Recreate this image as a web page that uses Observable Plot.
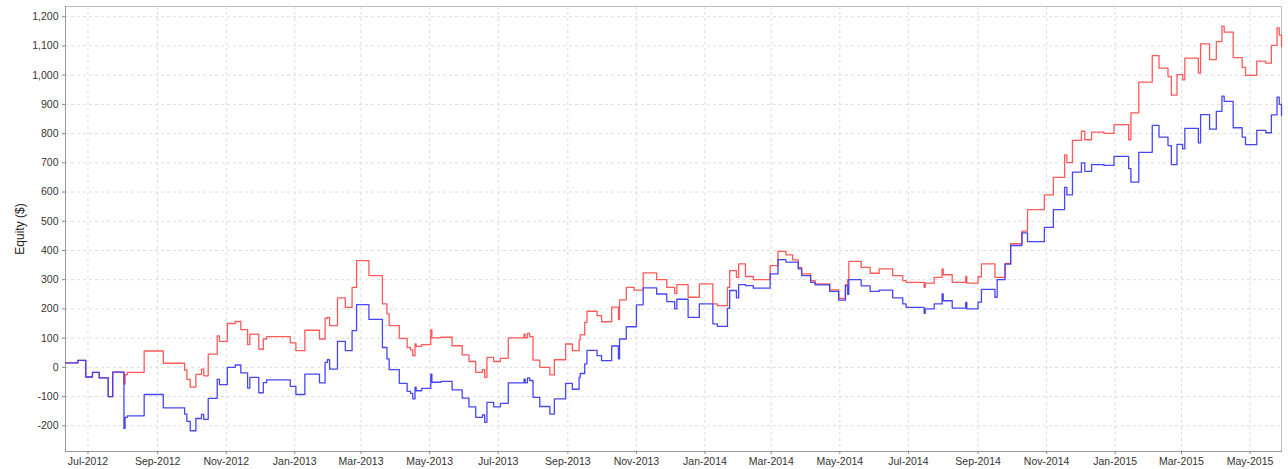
<!DOCTYPE html>
<html>
<head>
<meta charset="utf-8">
<script src="https://cdn.jsdelivr.net/npm/d3@7"></script>
<script src="https://cdn.jsdelivr.net/npm/@observablehq/plot@0.6"></script>
<style>
  html, body { margin: 0; padding: 0; background: #fff; }
  #chart { width: 1288px; height: 469px; }
</style>
</head>
<body>
<div id="chart"></div>
<script>
// Equity curve data (dates where a new level starts; step-after)
const dates = [
  "2012-06-11","2012-06-22","2012-06-29","2012-07-05","2012-07-11","2012-07-19","2012-07-23",
  "2012-08-02","2012-08-03","2012-08-05","2012-08-20","2012-09-06","2012-09-25","2012-09-27",
  "2012-09-30","2012-10-05","2012-10-10","2012-10-12","2012-10-16","2012-10-24","2012-10-26",
  "2012-11-02","2012-11-09","2012-11-14","2012-11-20","2012-11-22","2012-11-30","2012-12-04",
  "2012-12-07","2012-12-28","2013-01-02","2013-01-10","2013-01-23","2013-01-28","2013-01-30",
  "2013-02-01","2013-02-08","2013-02-15","2013-02-21","2013-02-25","2013-03-08","2013-03-20",
  "2013-03-24","2013-03-26","2013-04-04","2013-04-11","2013-04-14","2013-04-16","2013-04-18",
  "2013-04-19","2013-04-24","2013-05-02","2013-05-03","2013-05-11","2013-05-21","2013-05-30",
  "2013-06-05","2013-06-11","2013-06-17","2013-06-19","2013-06-21","2013-06-27","2013-07-03",
  "2013-07-10","2013-07-24","2013-07-25","2013-07-27","2013-07-29","2013-08-01","2013-08-07",
  "2013-08-16","2013-08-20","2013-08-30","2013-09-05","2013-09-11","2013-09-12","2013-09-16",
  "2013-09-18","2013-09-27","2013-10-01","2013-10-10","2013-10-16","2013-10-17","2013-10-23",
  "2013-10-30","2013-11-01","2013-11-07","2013-11-19","2013-11-28","2013-12-05","2013-12-07",
  "2013-12-17","2013-12-27","2014-01-08","2014-01-12","2014-01-21","2014-01-23","2014-01-29",
  "2014-01-31","2014-02-06","2014-02-13","2014-02-28","2014-03-07","2014-03-14","2014-03-20",
  "2014-03-25","2014-03-28","2014-04-05","2014-04-09","2014-04-22","2014-04-30","2014-05-06",
  "2014-05-08","2014-05-09","2014-05-20","2014-05-28","2014-06-05","2014-06-17","2014-06-26",
  "2014-06-29","2014-07-15","2014-07-16","2014-07-24","2014-07-31","2014-08-01","2014-08-09",
  "2014-08-21","2014-08-22","2014-09-01","2014-09-04","2014-09-16","2014-09-18","2014-09-25",
  "2014-09-30","2014-10-10","2014-10-15","2014-10-30","2014-11-07","2014-11-17","2014-11-19",
  "2014-11-24","2014-12-02","2014-12-05","2014-12-11","2014-12-22","2014-12-31","2015-01-13",
  "2015-01-15","2015-01-22","2015-02-03","2015-02-09","2015-02-17","2015-02-20","2015-02-25",
  "2015-03-02","2015-03-04","2015-03-16","2015-03-18","2015-03-26","2015-04-01","2015-04-06",
  "2015-04-08","2015-04-16","2015-04-24","2015-04-27","2015-05-07","2015-05-15","2015-05-20",
  "2015-05-25","2015-05-27","2015-05-29"
];
const redSeries = [
  15,24,-33,-17,-36,-100,-16,
  -57,-25,-17,56,14,-9,-41,
  -68,-24,-6,-29,45,108,89,
  150,157,129,78,114,62,97,
  105,84,57,127,97,168,171,
  143,238,205,274,365,314,217,
  183,143,99,68,60,40,80,
  72,78,128,101,103,74,43,
  20,-17,-8,-34,34,20,31,
  101,114,101,116,105,25,0,
  -26,26,80,57,94,111,154,
  192,177,156,206,163,231,274,
  264,264,323,300,274,253,283,
  240,286,217,211,274,331,308,
  354,311,300,348,397,385,368,
  342,320,297,286,265,236,283,
  300,363,342,322,337,314,297,
  291,274,288,308,337,317,291,
  311,288,310,354,308,308,356,
  423,466,540,590,650,727,701,
  777,808,779,805,801,831,779,
  871,976,1067,1024,995,932,1002,
  984,1058,1007,1107,1053,1115,1168,
  1147,1060,1027,999,1048,1041,1102,
  1162,1137,1098
];
const blueSeries = [
  15,24,-33,-17,-36,-100,-16,
  -209,-171,-166,-93,-139,-160,-185,
  -217,-175,-161,-178,-106,-41,-59,
  0,8,-19,-71,-34,-87,-52,
  -43,-65,-93,-23,-53,17,26,
  -6,89,57,126,215,164,68,
  29,-8,-55,-82,-89,-108,-68,
  -80,-72,-23,-51,-48,-77,-105,
  -135,-171,-163,-188,-120,-135,-123,
  -53,-40,-53,-36,-45,-103,-134,
  -160,-108,-55,-75,-34,-21,12,
  58,40,23,73,29,97,139,
  139,214,272,251,225,200,233,
  171,217,149,140,202,263,238,
  283,280,271,320,369,360,360,
  337,314,291,282,260,230,280,
  250,300,279,260,264,238,217,
  205,185,200,217,251,228,203,
  222,200,223,267,240,300,353,
  417,460,430,479,540,616,590,
  668,700,671,694,691,722,680,
  634,736,828,788,759,694,763,
  748,818,768,865,815,876,928,
  910,820,788,762,811,803,864,
  925,900,862
];
const yTicks = [-200,-100,0,100,200,300,400,500,600,700,800,900,1000,1100,1200];

const rows = dates.map((d, i) => ({date: new Date(d), red: redSeries[i], blue: blueSeries[i]}));
const fmt = d => d.toLocaleString("en-US");

const chart = Plot.plot({
  width: 1288,
  height: 469,
  marginLeft: 65,
  marginRight: 7,
  marginTop: 6,
  marginBottom: 18,
  style: {fontFamily: "'Liberation Sans', Arial, sans-serif", fontSize: "10.5px", color: "#333", background: "#fff"},
  x: {type: "utc"},
  y: {domain: [-288, 1235]},
  marks: [
    Plot.gridY(yTicks, {stroke: "#dddddd", strokeOpacity: 1, strokeDasharray: "3,3"}),
    Plot.gridX({ticks: d3.utcMonth.every(2), stroke: "#dddddd", strokeOpacity: 1, strokeDasharray: "3,3"}),
    Plot.frame({stroke: "#c0c0c0"}),
    Plot.axisY(yTicks, {tickSize: 3, tickPadding: 4, tickFormat: fmt, label: null, fill: "#333", stroke: "#888"}),
    Plot.axisX({ticks: d3.utcMonth.every(2), tickSize: 3, tickPadding: 3, tickFormat: d3.utcFormat("%b-%Y"), label: null, fill: "#333", stroke: "#888"}),
    Plot.frame({anchor: "left", stroke: "#999"}),
    Plot.frame({anchor: "bottom", stroke: "#999"}),
    Plot.text(["Equity ($)"], {frameAnchor: "left", dx: -45, rotate: -90, fontSize: 12, fill: "#222", textAnchor: "middle"}),
    Plot.line(rows, {x: "date", y: "red", curve: "step-after", stroke: "#ff5a5a", strokeWidth: 1.3}),
    Plot.line(rows, {x: "date", y: "blue", curve: "step-after", stroke: "#3c3cf5", strokeWidth: 1.3, strokeOpacity: 0.95})
  ]
});
document.getElementById("chart").appendChild(chart);
</script>
</body>
</html>
